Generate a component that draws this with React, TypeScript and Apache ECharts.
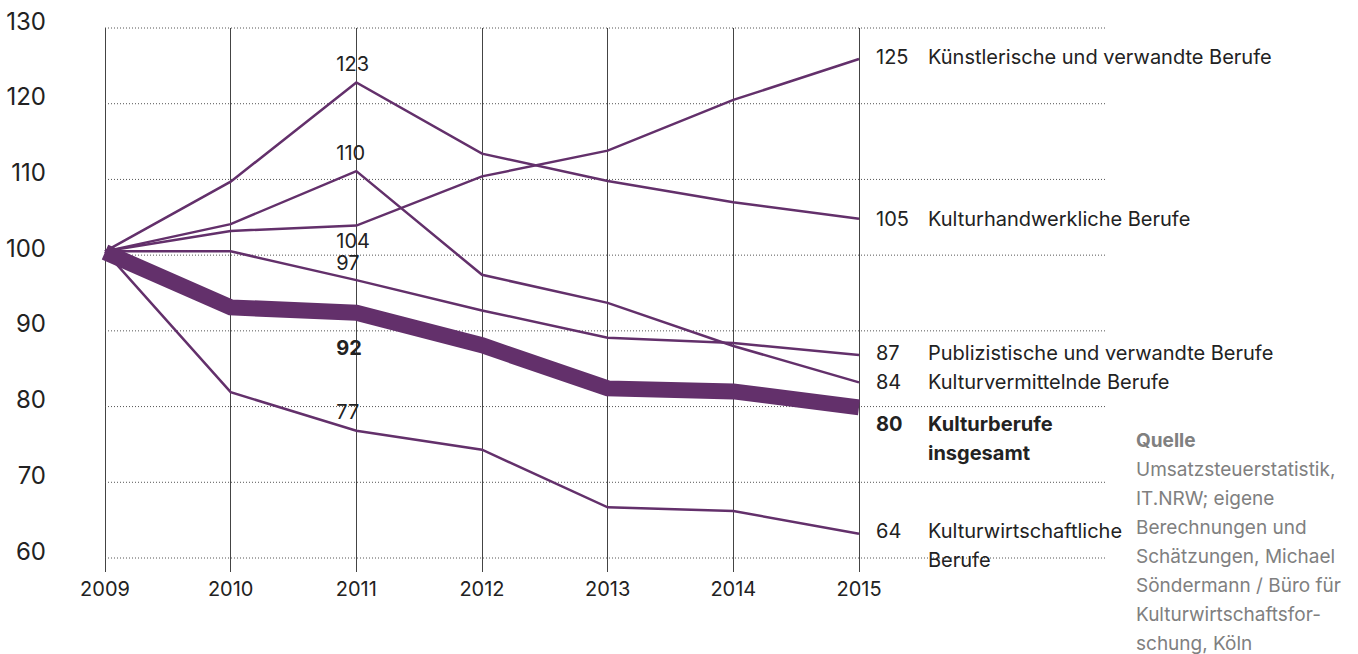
import React, { useEffect, useRef } from "react";
import * as echarts from "echarts";

const years = ["2009", "2010", "2011", "2012", "2013", "2014", "2015"];
const yTicks = [60, 70, 80, 90, 100, 110, 120, 130];

const kuenstlerisch = [100.5, 103.2, 103.9, 110.4, 113.8, 120.5, 125.9];
const kulturhandwerk = [100.5, 109.7, 122.8, 113.4, 109.8, 107.0, 104.8];
const kulturvermittelnd = [100.5, 104.1, 111.1, 97.4, 93.7, 88.0, 83.2];
const publizistisch = [100.5, 100.5, 96.7, 92.7, 89.1, 88.4, 86.8];
const kulturwirtschaft = [100.5, 81.9, 76.8, 74.3, 66.7, 66.2, 63.2];
const insgesamt = [100.4, 93.1, 92.4, 88.1, 82.4, 82.0, 79.9];

const endNumbers = ["125", "105", "84", "87", "64", "80"];
const endNames = [
  ["Künstlerische und verwandte Berufe"],
  ["Kulturhandwerkliche Berufe"],
  ["Kulturvermittelnde Berufe"],
  ["Publizistische und verwandte Berufe"],
  ["Kulturwirtschaftliche", "Berufe"],
  ["Kulturberufe", "insgesamt"],
];
const midLabels = ["104", "123", "110", "97", "77", "92"];

const sourceTitle = "Quelle";
const sourceLines = [
  "Umsatzsteuerstatistik,",
  "IT.NRW; eigene",
  "Berechnungen und",
  "Schätzungen, Michael",
  "Söndermann / Büro für",
  "Kulturwirtschaftsfor-",
  "schung, Köln",
];

const FONT = "Inter, 'Noto Sans', sans-serif";
const PURPLE = "#63306b";
const TEXT = "#222222";

export default function App() {
  const ref = useRef<HTMLDivElement>(null);

  useEffect(() => {
    if (!ref.current) return;
    const chart = echarts.init(ref.current, null, { renderer: "svg" });

    const seriesDefs = [
      { data: kuenstlerisch, bold: false, endDy: -2.5, midDy: 15, width: 2.5 },
      { data: kulturhandwerk, bold: false, endDy: 0, midDy: -19, width: 2.5 },
      { data: kulturvermittelnd, bold: false, endDy: -0.5, midDy: -18, width: 2.5 },
      { data: publizistisch, bold: false, endDy: -2.5, midDy: -17, width: 2.5 },
      { data: kulturwirtschaft, bold: false, endDy: 12, midDy: -19, width: 2.5 },
      { data: insgesamt, bold: true, endDy: 31, midDy: 35, width: 16 },
    ];

    const series = seriesDefs.map((d, i) => {
      const names = endNames[i];
      const fmt = names
        .map((n, k) => `{v${d.bold ? "b" : ""}|${k === 0 ? endNumbers[i] : " "}}{n${d.bold ? "b" : ""}|${n}}`)
        .join("\n");
      return {
        type: "line",
        data: d.data,
        symbol: "none",
        z: d.bold ? 5 : 3,
        lineStyle: { color: PURPLE, width: d.width, cap: "butt", join: "miter" },
        itemStyle: { color: PURPLE },
        emphasis: { disabled: true },
        endLabel: {
          show: true,
          distance: 17,
          offset: [0, d.endDy],
          formatter: () => fmt,
          rich: {
            v: { width: 52, fontSize: 20, fontFamily: FONT, color: TEXT, lineHeight: 29 },
            n: { fontSize: 20, fontFamily: FONT, color: TEXT, lineHeight: 29 },
            vb: { width: 52, fontSize: 20, fontFamily: FONT, color: TEXT, fontWeight: "bold", lineHeight: 29 },
            nb: { fontSize: 20, fontFamily: FONT, color: TEXT, fontWeight: "bold", lineHeight: 29 },
          },
        },
      };
    });

    const option: any = {
      animation: false,
      textStyle: { fontFamily: FONT },
      grid: { left: 105, right: 499, top: 28, bottom: 96, containLabel: false },
      xAxis: {
        type: "category",
        data: years,
        boundaryGap: false,
        axisLine: { show: false },
        axisTick: { show: true, length: 14, inside: false, lineStyle: { color: "#444", width: 1 } },
        axisLabel: { fontSize: 20, color: TEXT, margin: 21, fontFamily: FONT },
        splitLine: { show: true, lineStyle: { color: "#444", width: 1 } },
      },
      yAxis: {
        type: "value",
        min: 60,
        max: 130,
        interval: 10,
        axisLine: { show: false },
        axisTick: { show: false },
        splitLine: { show: false },
        axisLabel: {
          fontSize: 24,
          color: TEXT,
          margin: 59,
          fontFamily: FONT,
          verticalAlign: "bottom",
          lineHeight: 14,
        },
      },
      series,
    };
    chart.setOption(option);

    const graphics: any[] = [];
    yTicks.forEach((v) => {
      const y = chart.convertToPixel({ yAxisIndex: 0 }, v) as number;
      graphics.push({
        type: "line",
        silent: true,
        z: 0,
        shape: { x1: 105, y1: y, x2: 1105, y2: y },
        style: { stroke: "#555", lineWidth: 1, lineDash: [1, 2] },
      });
    });
    seriesDefs.forEach((d, i) => {
      const pt = chart.convertToPixel({ xAxisIndex: 0, yAxisIndex: 0 }, [years[2], d.data[2]]) as number[];
      graphics.push({
        type: "text",
        silent: true,
        z: 10,
        x: pt[0] - 20,
        y: pt[1] + d.midDy,
        style: {
          text: midLabels[i],
          fontSize: 20,
          fontFamily: FONT,
          fontWeight: d.bold ? "bold" : "normal",
          fill: TEXT,
          align: "left",
          verticalAlign: "middle",
        },
      });
    });
    graphics.push({
      type: "text",
      silent: true,
      z: 10,
      x: 1136,
      y: 426,
      style: {
        text: `{t|${sourceTitle}}\n` + sourceLines.map((l) => `{s|${l}}`).join("\n"),
        align: "left",
        verticalAlign: "top",
        rich: {
          t: { fontSize: 19, fontFamily: FONT, fontWeight: "bold", fill: "#808080", lineHeight: 29 },
          s: { fontSize: 19, fontFamily: FONT, fill: "#808080", lineHeight: 29 },
        },
      },
    });
    chart.setOption({ graphic: graphics });

    return () => chart.dispose();
  }, []);

  return (
    <div
      ref={ref}
      style={{ position: "fixed", left: 0, top: 0, width: 1358, height: 654, background: "#fff" }}
    />
  );
}
